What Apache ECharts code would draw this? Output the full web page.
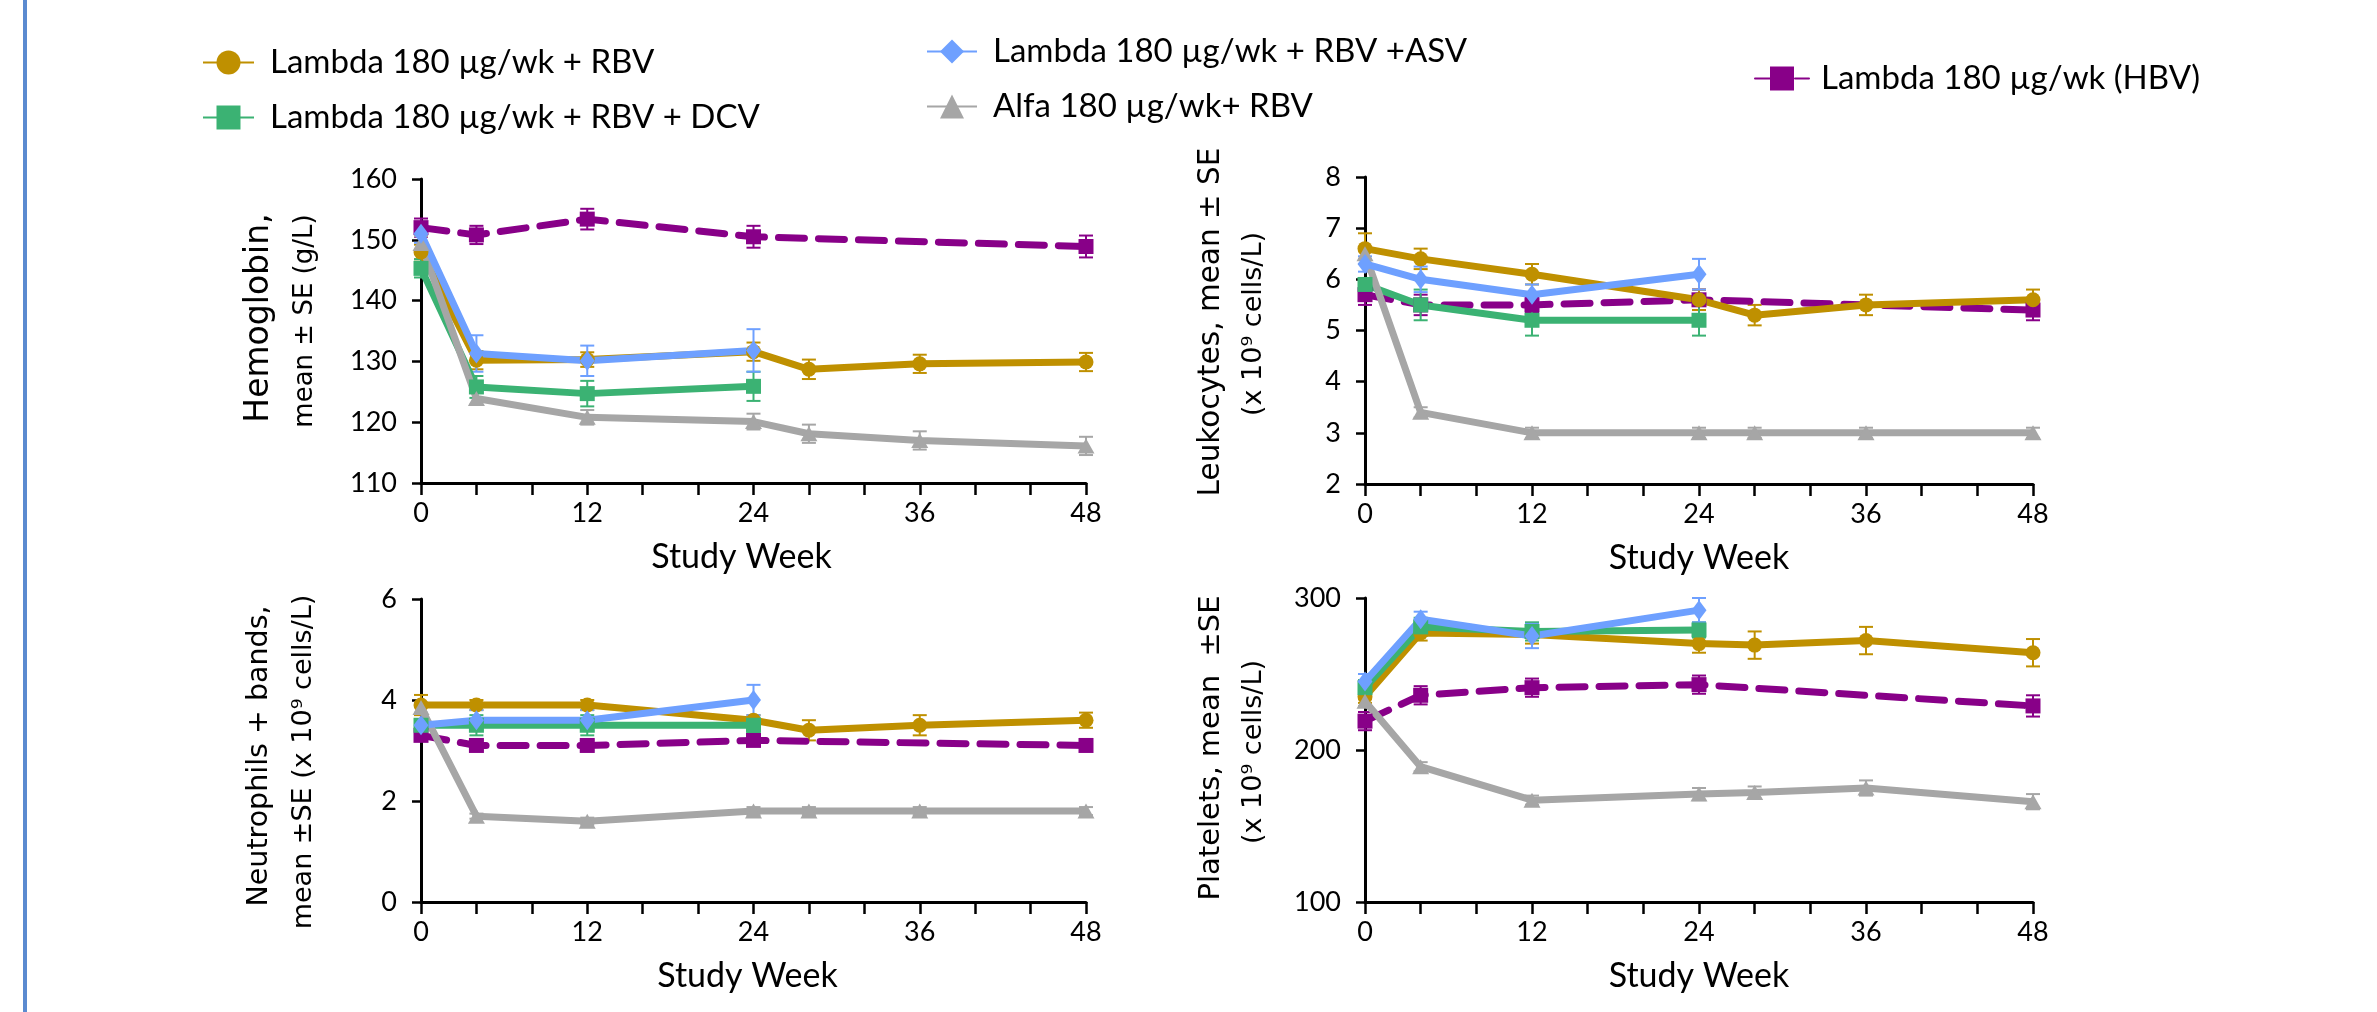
<!DOCTYPE html>
<html>
<head>
<meta charset="utf-8">
<script src="https://cdn.jsdelivr.net/npm/echarts@6/dist/echarts.min.js"></script>
<style>
html,body{margin:0;padding:0;background:#ffffff;}
#chart{width:2377px;height:1012px;}
</style>
</head>
<body>
<div id="chart"></div>
<script>
// ---------------- DATA ----------------
const seriesNames = [
  'Lambda 180 µg/wk + RBV',
  'Lambda 180 µg/wk + RBV + DCV',
  'Lambda 180 µg/wk + RBV +ASV',
  'Alfa 180 µg/wk+ RBV',
  'Lambda 180 µg/wk (HBV)'
];
const weeksLong = [0, 4, 12, 24, 28, 36, 48];   // Lambda+RBV, Alfa+RBV
const weeksShort = [0, 4, 12, 24];              // +DCV, +ASV
const weeksHBV = [0, 4, 12, 24, 48];            // HBV
const xTickLabels = [0, 12, 24, 36, 48];
const xTitle = 'Study Week';

// Y-axis titles (two lines each)
const hgbTitle = ['Hemoglobin,', 'mean ± SE (g/L)'];
const wbcTitle = ['Leukocytes, mean ± SE', '(x 10⁹ cells/L)'];
const neuTitle = ['Neutrophils + bands,', 'mean ±SE (x 10⁹ cells/L)'];
const pltTitle = ['Platelets, mean  ±SE', '(x 10⁹ cells/L)'];

// Hemoglobin (g/L)
const hgbTicks = [110, 120, 130, 140, 150, 160];
const hgbRBV = [148.0, 130.2, 130.3, 131.6, 128.7, 129.6, 129.9];
const hgbRBVse = [1.2, 1.5, 1.2, 1.5, 1.6, 1.5, 1.5];
const hgbDCV = [145.3, 125.8, 124.7, 125.9];
const hgbDCVse = [1.5, 1.8, 2.1, 2.4];
const hgbASV = [151.0, 131.3, 130.1, 131.8];
const hgbASVse = [1.5, 3.0, 2.5, 3.5];
const hgbAlfa = [149.4, 123.9, 120.8, 120.1, 118.1, 117.0, 116.1];
const hgbAlfase = [1.2, 1.0, 1.2, 1.3, 1.5, 1.5, 1.5];
const hgbHBV = [152.0, 150.8, 153.4, 150.5, 148.9];
const hgbHBVse = [1.5, 1.5, 1.7, 1.8, 1.8];

// Leukocytes (x10^9 cells/L)
const wbcTicks = [2, 3, 4, 5, 6, 7, 8];
const wbcRBV = [6.6, 6.4, 6.1, 5.6, 5.3, 5.5, 5.6];
const wbcRBVse = [0.3, 0.2, 0.2, 0.2, 0.2, 0.2, 0.2];
const wbcDCV = [5.9, 5.5, 5.2, 5.2];
const wbcDCVse = [0.1, 0.3, 0.3, 0.3];
const wbcASV = [6.3, 6.0, 5.7, 6.1];
const wbcASVse = [0.15, 0.25, 0.2, 0.3];
const wbcAlfa = [6.5, 3.4, 3.0, 3.0, 3.0, 3.0, 3.0];
const wbcAlfase = [0.1, 0.1, 0.1, 0.1, 0.1, 0.1, 0.1];
const wbcHBV = [5.7, 5.5, 5.5, 5.6, 5.4];
const wbcHBVse = [0.2, 0.2, 0.15, 0.2, 0.2];

// Neutrophils + bands (x10^9 cells/L)
const neuTicks = [0, 2, 4, 6];
const neuRBV = [3.9, 3.9, 3.9, 3.6, 3.4, 3.5, 3.6];
const neuRBVse = [0.2, 0.1, 0.1, 0.1, 0.2, 0.2, 0.15];
const neuDCV = [3.5, 3.5, 3.5, 3.5];
const neuDCVse = [0.1, 0.2, 0.2, 0.15];
const neuASV = [3.5, 3.6, 3.6, 4.0];
const neuASVse = [0.1, 0.2, 0.2, 0.3];
const neuAlfa = [3.85, 1.7, 1.6, 1.8, 1.8, 1.8, 1.8];
const neuAlfase = [0.1, 0.05, 0.07, 0.08, 0.08, 0.08, 0.08];
const neuHBV = [3.3, 3.1, 3.1, 3.2, 3.1];
const neuHBVse = [0.1, 0.1, 0.1, 0.1, 0.1];

// Platelets (x10^9 cells/L)
const pltTicks = [100, 200, 300];
const pltRBV = [235, 277, 276, 270, 269, 272, 264];
const pltRBVse = [4, 5, 6, 6, 9, 9, 9];
const pltDCV = [241, 281, 278, 279];
const pltDCVse = [5, 6, 6, 5];
const pltASV = [245, 286, 275, 292];
const pltASVse = [5, 5, 8, 8];
const pltAlfa = [232, 189, 167, 171, 172, 175, 166];
const pltAlfase = [3, 3, 3, 4, 4, 5, 5];
const pltHBV = [219, 236, 241, 243, 229];
const pltHBVse = [6, 6, 6, 6, 7];

// ---------------- STYLE / LAYOUT ----------------
const seriesStyle = [
  {color: '#BF9000', symbol: 'circle', size: 15},
  {color: '#3BB273', symbol: 'rect', size: 15},
  {color: '#6EA0FF', symbol: 'diamond', size: [15, 20]},
  {color: '#A6A6A6', symbol: 'triangle', size: [17, 15]},
  {color: '#880088', symbol: 'rect', size: 15, dashed: true}
];
const drawOrder = [4, 0, 1, 3, 2];

const panels = [
  {
    grid: {left: 421, top: 179, width: 665, height: 304},
    ticks: hgbTicks, title: hgbTitle, xNamePad: 24,
    titleLayout: [{x: 259, y: 318, size: 33}, {x: 305, y: 321, size: 26}],
    vals: [hgbRBV, hgbDCV, hgbASV, hgbAlfa, hgbHBV],
    ses: [hgbRBVse, hgbDCVse, hgbASVse, hgbAlfase, hgbHBVse]
  },
  {
    grid: {left: 1365, top: 177, width: 668, height: 307},
    ticks: wbcTicks, title: wbcTitle, xNamePad: 0,
    titleLayout: [{x: 1211, y: 322, size: 29.5}, {x: 1254, y: 324, size: 27}],
    vals: [wbcRBV, wbcDCV, wbcASV, wbcAlfa, wbcHBV],
    ses: [wbcRBVse, wbcDCVse, wbcASVse, wbcAlfase, wbcHBVse]
  },
  {
    grid: {left: 421, top: 599, width: 665, height: 303},
    ticks: neuTicks, title: neuTitle, xNamePad: 12,
    titleLayout: [{x: 260, y: 756, size: 28.5}, {x: 304, y: 762, size: 27}],
    vals: [neuRBV, neuDCV, neuASV, neuAlfa, neuHBV],
    ses: [neuRBVse, neuDCVse, neuASVse, neuAlfase, neuHBVse]
  },
  {
    grid: {left: 1365, top: 598, width: 668, height: 304},
    ticks: pltTicks, title: pltTitle, xNamePad: 0,
    titleLayout: [{x: 1211, y: 748, size: 29}, {x: 1254, y: 752, size: 27}],
    vals: [pltRBV, pltDCV, pltASV, pltAlfa, pltHBV],
    ses: [pltRBVse, pltDCVse, pltASVse, pltAlfase, pltHBVse]
  }
];
const weeksFor = [weeksLong, weeksShort, weeksShort, weeksLong, weeksHBV];

const labelFont = 'Lato';

function errRender(params, api) {
  const x = api.value(0), y = api.value(1), e = api.value(2);
  const p1 = api.coord([x, y + e]);
  const p2 = api.coord([x, y - e]);
  const hw = 7;
  const st = {stroke: api.visual('color'), lineWidth: 2};
  return {
    type: 'group',
    children: [
      {type: 'line', shape: {x1: p1[0], y1: p1[1], x2: p2[0], y2: p2[1]}, style: st},
      {type: 'line', shape: {x1: p1[0] - hw, y1: p1[1], x2: p1[0] + hw, y2: p1[1]}, style: st},
      {type: 'line', shape: {x1: p2[0] - hw, y1: p2[1], x2: p2[0] + hw, y2: p2[1]}, style: st}
    ]
  };
}

const grids = [], xAxes = [], yAxes = [], series = [];
const graphics = [
  {type: 'rect', left: 23, top: 0, shape: {width: 4, height: 1012}, style: {fill: '#5B8AD0'}, silent: true}
];
panels.forEach((p, i) => {
  grids.push(Object.assign({containLabel: false}, p.grid));
  xAxes.push({
    type: 'value', gridIndex: i, min: 0, max: 48, interval: 4,
    name: xTitle, nameLocation: 'middle', nameGap: 57,
    nameTextStyle: {fontFamily: labelFont, fontSize: 34, color: '#000', padding: [0, p.xNamePad, 0, 0]},
    axisLine: {show: true, lineStyle: {color: '#000', width: 3}},
    axisTick: {show: true, length: 12, lineStyle: {color: '#000', width: 2.5}},
    axisLabel: {
      fontFamily: labelFont, fontSize: 27, color: '#000', margin: 17,
      formatter: v => xTickLabels.indexOf(v) >= 0 ? String(v) : ''
    },
    splitLine: {show: false}
  });
  yAxes.push({
    type: 'value', gridIndex: i,
    min: p.ticks[0], max: p.ticks[p.ticks.length - 1], interval: p.ticks[1] - p.ticks[0],
    axisLine: {show: true, lineStyle: {color: '#000', width: 3}},
    axisTick: {show: true, length: 9, lineStyle: {color: '#000', width: 2.5}},
    axisLabel: {fontFamily: labelFont, fontSize: 27, color: '#000', margin: 24},
    splitLine: {show: false}
  });
  p.title.forEach((t, li) => {
    const L = p.titleLayout[li];
    graphics.push({
      type: 'text', x: L.x, y: L.y, rotation: Math.PI / 2, silent: true,
      style: {
        text: t, fill: '#000',
        font: 'normal ' + L.size + 'px "DejaVu Sans", sans-serif',
        textAlign: 'center', textVerticalAlign: 'middle'
      }
    });
  });
  // error bars first (beneath the lines)
  drawOrder.forEach(k => {
    const st = seriesStyle[k];
    series.push({
      type: 'custom', name: seriesNames[k] + ' SE',
      xAxisIndex: i, yAxisIndex: i,
      renderItem: errRender,
      itemStyle: {color: st.color},
      encode: {x: 0, y: 1},
      data: weeksFor[k].map((w, j) => [w, p.vals[k][j], p.ses[k][j]]),
      z: 2, silent: true, animation: false
    });
  });
  drawOrder.forEach(k => {
    const st = seriesStyle[k];
    series.push({
      type: 'line', name: seriesNames[k],
      xAxisIndex: i, yAxisIndex: i,
      data: weeksFor[k].map((w, j) => [w, p.vals[k][j]]),
      symbol: st.symbol, symbolSize: st.size, showSymbol: true,
      itemStyle: {color: st.color, borderWidth: 0},
      lineStyle: {color: st.color, width: 7, type: st.dashed ? [26, 14] : 'solid', cap: st.dashed ? 'round' : 'butt'},
      emphasis: {disabled: true},
      z: 3, animation: false
    });
  });
});

const legendText = {fontFamily: labelFont, fontSize: 33, color: '#000', padding: [0, 0, 0, 11]};
const option = {
  backgroundColor: '#ffffff',
  animation: false,
  graphic: graphics,
  legend: [
    {data: [seriesNames[0], seriesNames[1]], orient: 'vertical', left: 202, top: 46,
     itemWidth: 51, itemHeight: 30, itemGap: 22, padding: 0, textStyle: legendText, selectedMode: false},
    {data: [seriesNames[2], seriesNames[3]], orient: 'vertical', left: 926, top: 35,
     itemWidth: 50, itemHeight: 30, itemGap: 22, padding: 0, textStyle: legendText, selectedMode: false},
    {data: [seriesNames[4]], orient: 'vertical', left: 1754, top: 62,
     itemWidth: 54, itemHeight: 30, itemGap: 10, padding: 0,
     textStyle: Object.assign({}, legendText, {padding: [0, 0, 0, 7]}), selectedMode: false}
  ],
  grid: grids,
  xAxis: xAxes,
  yAxis: yAxes,
  series: series
};

const chart = echarts.init(document.getElementById('chart'), null, {renderer: 'canvas'});
chart.setOption(option);
</script>
</body>
</html>
